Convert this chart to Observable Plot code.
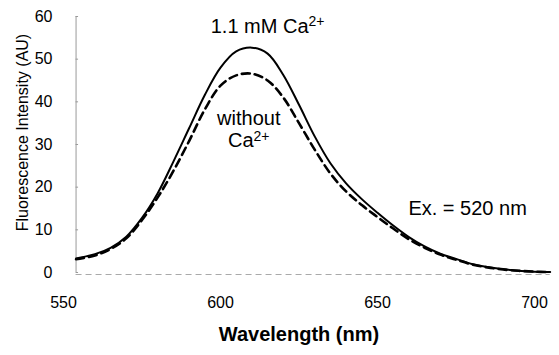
<!DOCTYPE html>
<html>
<head>
<meta charset="utf-8">
<script src="https://cdn.jsdelivr.net/npm/d3@7"></script>
<script src="https://cdn.jsdelivr.net/npm/@observablehq/plot@0.6"></script>
<style>
  html, body { margin: 0; padding: 0; background: #fff; }
</style>
</head>
<body>
<div id="chart"></div>
<script>
const wavelengths = [554,560,565,570,575,580,585,590,595,600,605,610,615,620,625,630,635,640,645,650,655,660,665,670,675,680,685,690,695,700,705];
const withCa    = [3.3,4.3,5.8,8.4,12.8,18.6,26.0,33.8,41.6,48.0,51.8,52.7,51.3,46.3,39.3,31.9,25.6,20.9,17.2,14.0,11.0,8.3,6.1,4.4,3.2,2.0,1.3,0.8,0.4,0.2,0.1];
const withoutCa = [3.1,4.0,5.5,8.0,12.3,17.6,23.8,30.8,38.2,43.8,46.2,46.6,45.0,41.0,35.0,28.8,23.2,19.0,15.8,13.0,10.3,7.8,5.8,4.2,3.0,1.9,1.2,0.7,0.4,0.2,0.1];
const xTicks = [550, 600, 650, 700];
const yTicks = [0, 10, 20, 30, 40, 50, 60];
const annotationText = ["1.1 mM Ca2+", "without", "Ca2+", "Ex. = 520 nm"];
const annotationX = [615, 609, 609, 678.7];
const annotationY = [57.7, 36.0, 30.8, 14.9];

const solid = wavelengths.map((w, i) => ({w, v: withCa[i]}));
const dashed = wavelengths.map((w, i) => ({w, v: withoutCa[i]}));
const notes = annotationText.map((t, i) => ({t, x: annotationX[i], y: annotationY[i]}));
const xStart = wavelengths[0], xEnd = wavelengths[wavelengths.length - 1];

const chart = Plot.plot({
  width: 559,
  height: 355,
  marginLeft: 63,
  marginRight: 25,
  marginTop: 16,
  marginBottom: 83,
  style: {fontFamily: "'Liberation Sans', Arial, sans-serif", background: "#fff", color: "#000"},
  x: {domain: [550, 700]},
  y: {domain: [0, 60]},
  marks: [
    Plot.axisX({ticks: xTicks, tickSize: 0, tickPadding: 24, fontSize: 16, label: null}),
    Plot.axisY({ticks: yTicks, tickSize: 0, tickPadding: 11, fontSize: 16, label: null}),
    Plot.ruleX([xStart], {y1: 0, y2: 60, stroke: "#999", strokeWidth: 1}),
    Plot.ruleY(yTicks, {x1: xStart, x2: xStart + 0.8, stroke: "#999"}),
    Plot.ruleY([0], {x1: xStart, x2: xEnd, stroke: "#aaa", strokeDasharray: "6,4", dy: 2}),
    Plot.line(dashed, {x: "w", y: "v", curve: "catmull-rom", stroke: "#000", strokeWidth: 2.6, strokeDasharray: "8,5"}),
    Plot.line(solid, {x: "w", y: "v", curve: "catmull-rom", stroke: "#000", strokeWidth: 2}),
    Plot.text(notes, {x: "x", y: "y", text: "t", fontSize: 20, fill: "#000", textAnchor: "middle", clip: false}),
    Plot.text(["Wavelength (nm)"], {text: d => d, frameAnchor: "bottom", dy: 68, fontSize: 20, fontWeight: "bold", fill: "#000"}),
    Plot.text(["Fluorescence Intensity (AU)"], {text: d => d, frameAnchor: "left", textAnchor: "middle", dx: -41, dy: -12, rotate: -90, fontSize: 16, fill: "#000"})
  ]
});

chart.querySelectorAll("text").forEach(el => {
  const s = el.textContent;
  if (s.endsWith("Ca2+") && el.children.length === 0) {
    el.textContent = s.slice(0, -2);
    const ns = "http://www.w3.org/2000/svg";
    const sup = document.createElementNS(ns, "tspan");
    sup.setAttribute("font-size", "0.7em");
    sup.setAttribute("dy", "-0.45em");
    sup.textContent = "2+";
    el.appendChild(sup);
  }
});

document.getElementById("chart").appendChild(chart);
</script>
</body>
</html>
